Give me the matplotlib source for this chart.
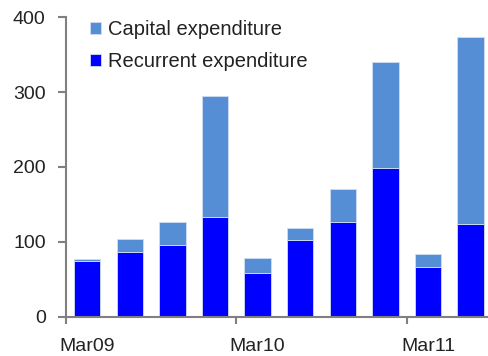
import numpy as np
import matplotlib.pyplot as plt

plt.rcParams['font.family'] = ['Liberation Sans', 'DejaVu Sans']

# quarterly spending, Mar09 .. Dec11
quarters = ['Mar09', 'Jun09', 'Sep09', 'Dec09', 'Mar10', 'Jun10',
            'Sep10', 'Dec10', 'Mar11', 'Jun11']
recurrent = [75, 87, 96, 133, 59, 103, 127, 198, 66, 124]
capital = [2, 17, 31, 162, 20, 15, 44, 142, 18, 250]

fig = plt.figure(figsize=(4.88, 3.56), dpi=100)
ax = fig.add_axes([0.135, 0.11, 0.873, 0.842])

x = np.arange(len(quarters))
edge = '#d0ddf2'
ax.bar(x, recurrent, width=0.62, color='#0000ff', edgecolor=edge, linewidth=0.6,
       label='Recurrent expenditure')
ax.bar(x, capital, width=0.62, bottom=recurrent, color='#558ed5', edgecolor=edge,
       linewidth=0.6, label='Capital expenditure')

ax.set_xlim(-0.5, len(quarters) - 0.5)
ax.set_ylim(0, 400)
ax.set_yticks([0, 100, 200, 300, 400])

# labels under every fourth bar, tick marks between categories
ax.set_xticks([0, 4, 8])
ax.set_xticklabels([quarters[0], quarters[4], quarters[8]])
ax.set_xticks([-0.5, 3.5, 7.5], minor=True)
ax.tick_params(axis='x', which='major', length=0, pad=15, labelsize=14, labelcolor='#222222')
ax.tick_params(axis='x', which='minor', length=5, width=1.5, color='#808080')
ax.tick_params(axis='y', length=5.5, width=1.5, color='#808080', pad=9,
               labelsize=14, labelcolor='#222222')

for s in ['top', 'right']:
    ax.spines[s].set_visible(False)
for s in ['left', 'bottom']:
    ax.spines[s].set_color('#808080')
    ax.spines[s].set_linewidth(1.5)

h, l = ax.get_legend_handles_labels()
ax.legend(h[::-1], l[::-1], loc='upper left', bbox_to_anchor=(0.013, 1.05),
          frameon=False, fontsize=14.5, handlelength=0.55, handleheight=0.55,
          handletextpad=0.35, labelspacing=0.62, labelcolor='#222222')

fig.savefig('out.png', dpi=100)
